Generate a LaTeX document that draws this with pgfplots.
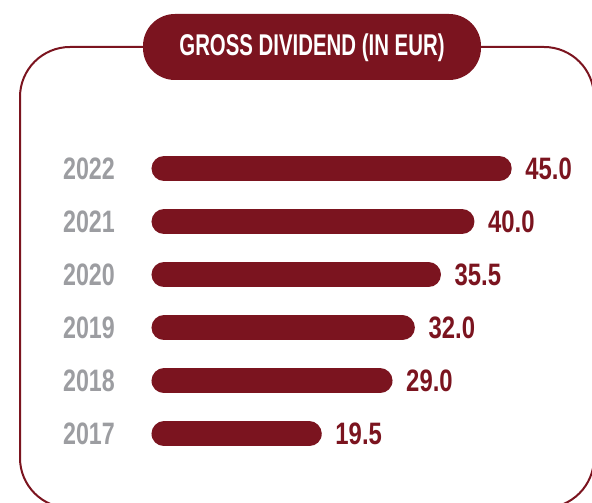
\documentclass[border=0pt]{standalone}
\usepackage{fontspec}
\setmainfont{Liberation Sans}
\newfontfamily\yearfont[FakeStretch=0.75]{Liberation Sans}
\newfontfamily\valfont[FakeStretch=0.77]{Liberation Sans}
\newfontfamily\titlefont[FakeStretch=0.68]{Liberation Sans}
\usepackage{pgfplots}
\pgfplotsset{compat=1.18}
\definecolor{wine}{HTML}{7B141F}
\definecolor{yeargray}{HTML}{9C9DA1}

\pgfplotstableread{
x y label
45.0 2022 45.0
40.0 2021 40.0
35.5 2020 35.5
32.0 2019 32.0
29.0 2018 29.0
19.5 2017 19.5
}\divtable

\begin{document}
\begin{tikzpicture}[x=1pt,y=1pt]
\useasboundingbox (0,0) rectangle (592,503);
\begin{scope}
\clip (0,0) rectangle (592,503);
\draw[wine, line width=2pt, rounded corners=50pt] (20,456) rectangle (594,-5);
\end{scope}
\fill[wine, rounded corners=32pt] (143,489) rectangle (481,423);
\node[text=white, inner sep=0pt, font=\titlefont\bfseries\fontsize{30}{32}\selectfont] at (312,455) {GROSS DIVIDEND (IN EUR)};

\begin{axis}[
  at={(118pt,0pt)}, anchor=south west,
  scale only axis, width=474pt, height=503pt,
  xmin=-6.174, xmax=57.45,
  ymin=2015.7006, ymax=2025.1733,
  axis line style={draw=none},
  xtick=\empty,
  ytick={2017,2018,2019,2020,2021,2022},
  yticklabels={2017,2018,2019,2020,2021,2022},
  ytick style={draw=none},
  major tick length=0pt,
  yticklabel style={font=\yearfont\bfseries\fontsize{31}{33}\selectfont, text=yeargray, inner sep=0pt, anchor=east, xshift=-3pt},
  clip=false,
]
\addplot[wine, line width=25pt, line cap=round, mark=none] coordinates {(0,2022) (45.0,2022)};
\addplot[wine, line width=25pt, line cap=round, mark=none] coordinates {(0,2021) (40.0,2021)};
\addplot[wine, line width=25pt, line cap=round, mark=none] coordinates {(0,2020) (35.5,2020)};
\addplot[wine, line width=25pt, line cap=round, mark=none] coordinates {(0,2019) (32.0,2019)};
\addplot[wine, line width=25pt, line cap=round, mark=none] coordinates {(0,2018) (29.0,2018)};
\addplot[wine, line width=25pt, line cap=round, mark=none] coordinates {(0,2017) (19.5,2017)};
\addplot[draw=none, mark=none, nodes near coords, point meta=explicit symbolic,
  nodes near coords style={anchor=west, xshift=26pt, inner sep=0pt, text=wine, font=\valfont\bfseries\fontsize{31}{33}\selectfont}]
  table[x=x, y=y, meta=label] {\divtable};
\end{axis}
\end{tikzpicture}
\end{document}
